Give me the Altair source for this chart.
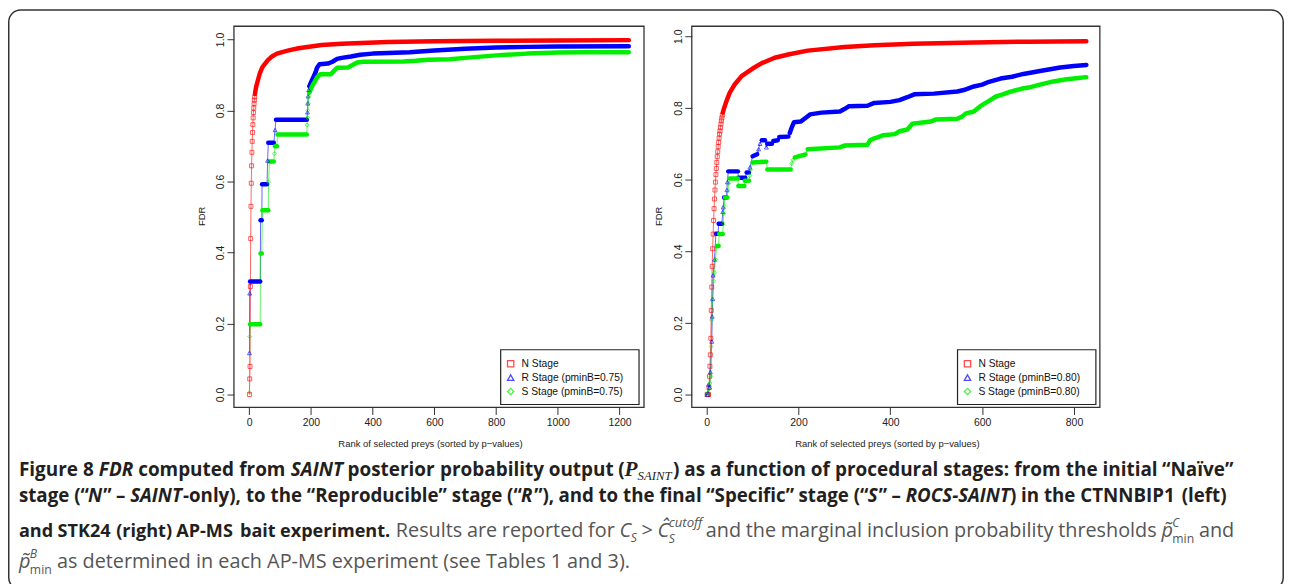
import altair as alt
import pandas as pd

W, H = 1282, 576

# ---------------- data ----------------
# each series = list of segments; a one-point segment is an isolated marker,
# a multi-point segment is a run of densely packed markers
left_names = ["N Stage", "R Stage (pminB=0.75)", "S Stage (pminB=0.75)"]
right_names = ["N Stage", "R Stage (pminB=0.80)", "S Stage (pminB=0.80)"]
colors = ["#ff0000", "#0000ff", "#00ee00"]
shapes = ["square", "triangle-up", "diamond"]

left_x_ticks = [0, 200, 400, 600, 800, 1000, 1200]
right_x_ticks = [0, 200, 400, 600, 800]
y_ticks = [0.0, 0.2, 0.4, 0.6, 0.8, 1.0]

L_N = [[[1, 0.0]], [[2, 0.044]], [[3, 0.079]], [[4, 0.304]], [[5, 0.439]], [[6, 0.530]],
       [[7, 0.595]], [[8, 0.644]], [[9, 0.682]], [[10, 0.713]], [[11, 0.738]], [[12, 0.760]],
       [[13, 0.779]], [[14, 0.794]], [[15, 0.807]], [[16, 0.819]], [[17, 0.829]], [[18, 0.838]],
       [[19, 0.846], [20, 0.853], [23, 0.868], [26, 0.877], [30, 0.89], [35, 0.905], [42, 0.92],
        [50, 0.93], [60, 0.941], [74, 0.952], [90, 0.96], [110, 0.965], [128, 0.969], [160, 0.975],
        [200, 0.98], [235, 0.984], [300, 0.988], [449, 0.993], [600, 0.995], [800, 0.996],
        [1000, 0.997], [1230, 0.998]]]

L_R = [[[1, 0.117]], [[2, 0.285]], [[3, 0.318], [36, 0.318]], [[37, 0.491], [41, 0.491]],
       [[42, 0.592], [58, 0.592]], [[60, 0.659]], [[62, 0.709], [80, 0.709]], [[84, 0.745]],
       [[87, 0.774], [187, 0.774]], [[189, 0.795]], [[190, 0.82]], [[191, 0.84]], [[193, 0.858]],
       [[195, 0.868], [200, 0.878], [205, 0.888], [210, 0.897], [215, 0.907], [220, 0.92],
        [228, 0.93], [255, 0.932], [270, 0.937], [285, 0.945], [300, 0.948], [330, 0.952],
        [360, 0.957], [400, 0.96], [450, 0.962], [520, 0.964], [600, 0.969], [700, 0.974],
        [800, 0.977], [900, 0.979], [1000, 0.98], [1230, 0.981]]]

L_S = [[[1, 0.005]], [[2, 0.163]], [[3, 0.198], [36, 0.198]], [[37, 0.397], [41, 0.397]],
       [[43, 0.519], [62, 0.519]], [[63, 0.598]], [[66, 0.656], [80, 0.656]], [[82, 0.678]],
       [[84, 0.699], [90, 0.699]], [[92, 0.732], [187, 0.732]], [[188, 0.759]], [[189, 0.780]],
       [[190, 0.80]], [[191, 0.82]], [[193, 0.84]],
       [[195, 0.85], [200, 0.86], [205, 0.87], [212, 0.88], [220, 0.893], [230, 0.902],
        [265, 0.902], [275, 0.912], [285, 0.92], [320, 0.921], [335, 0.928], [350, 0.935],
        [370, 0.937], [500, 0.938], [540, 0.94], [580, 0.943], [650, 0.944], [700, 0.948],
        [800, 0.955], [900, 0.96], [1000, 0.963], [1100, 0.964], [1230, 0.964]]]

R_N = [[[1, 0.0]], [[2, 0.0]], [[3, 0.0]], [[4, 0.0]], [[5, 0.02]], [[6, 0.051]], [[7, 0.079]],
       [[8, 0.111]], [[9, 0.157]], [[10, 0.235]], [[11, 0.30]], [[12, 0.358]], [[13, 0.407]],
       [[14, 0.448]], [[15, 0.486]], [[16, 0.519]], [[17, 0.546]], [[18, 0.571]], [[19, 0.593]],
       [[20, 0.614]], [[21, 0.631]], [[22, 0.648]], [[23, 0.664]], [[24, 0.678]], [[25, 0.692]],
       [[26, 0.704]], [[27, 0.716]], [[28, 0.727]], [[29, 0.736]], [[30, 0.745]], [[31, 0.755]],
       [[32, 0.764]], [[33, 0.772]], [[34, 0.78]],
       [[35, 0.787], [38, 0.80], [43, 0.819], [50, 0.842], [60, 0.864], [76, 0.889], [100, 0.91],
        [120, 0.925], [148, 0.94], [180, 0.95], [220, 0.96], [300, 0.97], [365, 0.975],
        [450, 0.979], [582, 0.983], [700, 0.985], [827, 0.986]]]

R_R = [[[1, 0.0]], [[2, 0.005]], [[4, 0.028]], [[6, 0.02]], [[8, 0.063]], [[11, 0.148]],
       [[12, 0.218]], [[13, 0.267]], [[14, 0.333]], [[17, 0.377]], [[20, 0.449], [25, 0.449]],
       [[26, 0.477], [33, 0.477]], [[35, 0.51]], [[36, 0.523]], [[38, 0.55], [43, 0.55]],
       [[44, 0.571]], [[45, 0.593]], [[47, 0.623], [68, 0.623]], [[69, 0.605], [84, 0.605]],
       [[87, 0.62], [92, 0.62]], [[94, 0.634]], [[100, 0.665], [110, 0.671]], [[113, 0.685]],
       [[116, 0.70]], [[120, 0.71], [127, 0.71]], [[130, 0.69]], [[132, 0.70], [142, 0.70]],
       [[145, 0.708], [155, 0.71]], [[158, 0.719], [178, 0.72]],
       [[181, 0.73], [185, 0.745], [190, 0.76], [205, 0.762], [213, 0.77], [225, 0.782],
        [250, 0.787], [290, 0.79], [300, 0.797], [310, 0.805], [350, 0.806], [365, 0.814],
        [400, 0.817], [420, 0.822], [437, 0.83], [452, 0.838], [495, 0.84], [546, 0.846],
        [560, 0.85], [582, 0.86], [600, 0.865], [615, 0.873], [640, 0.882], [665, 0.887],
        [690, 0.895], [726, 0.903], [770, 0.913], [800, 0.917], [827, 0.92]]]

R_S = [[[1, 0.0]], [[3, 0.005]], [[5, 0.015]], [[7, 0.032]], [[9, 0.051]], [[10, 0.134]],
       [[11, 0.208]], [[13, 0.265]], [[15, 0.317]], [[17, 0.34]], [[19, 0.377]],
       [[22, 0.415], [26, 0.415]], [[27, 0.448], [35, 0.448]], [[36, 0.477]], [[37, 0.505]],
       [[38, 0.525]], [[40, 0.55], [45, 0.55]], [[46, 0.57]], [[48, 0.59]],
       [[50, 0.603], [68, 0.603]], [[69, 0.582], [82, 0.582]], [[83, 0.597], [92, 0.597]],
       [[94, 0.611]], [[96, 0.628]], [[100, 0.648], [130, 0.65]], [[132, 0.628], [183, 0.628]],
       [[185, 0.645]], [[188, 0.655]], [[192, 0.662], [215, 0.67]],
       [[220, 0.685], [290, 0.69], [300, 0.695], [350, 0.697], [356, 0.71], [365, 0.715],
        [372, 0.718], [385, 0.724], [410, 0.727], [420, 0.735], [437, 0.74], [448, 0.756],
        [488, 0.762], [500, 0.768], [546, 0.77], [555, 0.775], [565, 0.785], [582, 0.79],
        [596, 0.805], [605, 0.812], [615, 0.82], [630, 0.832], [645, 0.838], [660, 0.845],
        [690, 0.855], [705, 0.858], [726, 0.865], [755, 0.874], [784, 0.88], [800, 0.882],
        [827, 0.886]]]


def build(names, series):
    rows = []
    sid = 0
    for name, segs in zip(names, series):
        idx = 0
        for s in segs:
            sid += 1
            for r, f in s:
                rows.append({"series": name, "rank": r, "fdr": f, "seg": sid,
                             "band": len(s) > 1, "idx": idx})
                idx += 1
    return pd.DataFrame(rows)


df_left = build(left_names, [L_N, L_R, L_S])
df_right = build(right_names, [R_N, R_R, R_S])

AX_FONT = "Liberation Sans"
XTITLE = "Rank of selected preys (sorted by p\u2212values)"
one = pd.DataFrame({"a": [0]})


def cscale(names):
    return alt.Scale(domain=names, range=colors)


def sscale(names):
    return alt.Scale(domain=names, range=shapes)


def panel(df, names, xdom, frame, ydom, xticks, xtitle_x):
    x0, x1, y0, y1 = frame
    xs = alt.Scale(domain=xdom, range=[x0, x1], nice=False, zero=False)
    ys = alt.Scale(domain=ydom, range=[y1, y0], nice=False, zero=False)
    xax = alt.Axis(values=xticks, format="d", orient="bottom", offset=y1 - H, domain=False,
                   grid=False, tickSize=7, tickColor="#333", tickWidth=1,
                   labelFont=AX_FONT, labelFontSize=10.5, labelColor="#222", labelPadding=8,
                   labelBaseline="middle", labelAlign="center", labelFlush=False,
                   labelOverlap=False, title=XTITLE, titleFont=AX_FONT, titleFontSize=9.5,
                   titleFontWeight="normal", titleColor="#222", titleX=xtitle_x, titleY=36,
                   titleAlign="center", titleBaseline="middle", titleAngle=0)
    yax = alt.Axis(values=y_ticks, format=".1f", orient="left", offset=-x0, domain=False,
                   grid=False, tickSize=7, tickColor="#333", tickWidth=1,
                   labelFont=AX_FONT, labelFontSize=10.5, labelColor="#222", labelPadding=6,
                   labelAngle=270, labelBaseline="middle", labelAlign="center",
                   labelFlush=False, labelOverlap=False, title="FDR", titleFont=AX_FONT,
                   titleFontSize=9.5, titleFontWeight="normal", titleColor="#222",
                   titleX=-33, titleY=(y0 + y1) / 2 - 1, titleAlign="center",
                   titleBaseline="middle", titleAngle=270)
    X = alt.X("rank:Q", scale=xs, axis=xax)
    Y = alt.Y("fdr:Q", scale=ys, axis=yax)
    C = alt.Color("series:N", scale=cscale(names), legend=None)
    base = alt.Chart(df)
    thin = base.mark_line(strokeWidth=1, opacity=0.6).encode(
        x=X, y=Y, color=C, detail="series:N", order="idx:Q")
    thick = base.transform_filter("datum.band").mark_line(
        strokeWidth=4.5, strokeCap="round", strokeJoin="round").encode(
        x=X, y=Y, color=C, detail="seg:N", order="idx:Q")
    pts = base.transform_filter("!datum.band").mark_point(
        filled=False, size=16, strokeWidth=0.9).encode(
        x=X, y=Y, color=C, shape=alt.Shape("series:N", scale=sscale(names), legend=None))
    return alt.layer(thin, thick, pts)


def legend_box(names, bx, by):
    ldf = pd.DataFrame({"series": names})
    Y = alt.Y("series:N", axis=None,
              scale=alt.Scale(type="point", domain=names, range=[by + 14, by + 42], padding=0))
    box = alt.Chart(one).mark_rect(fill="white", stroke="#222", strokeWidth=1.2).encode(
        x=alt.value(bx), x2=alt.value(bx + 139), y=alt.value(by), y2=alt.value(by + 55))
    sym = alt.Chart(ldf).mark_point(filled=False, size=40, strokeWidth=1.3).encode(
        x=alt.value(bx + 10), y=Y,
        color=alt.Color("series:N", scale=cscale(names), legend=None),
        shape=alt.Shape("series:N", scale=sscale(names), legend=None))
    lab = alt.Chart(ldf).mark_text(align="left", baseline="middle", font=AX_FONT,
                                   fontSize=10.3, color="#111").encode(
        x=alt.value(bx + 21), y=Y, text="series:N")
    return alt.layer(box, sym, lab)


L_FRAME = (227, 639, 17, 400)
R_FRAME = (687, 1097, 17, 400)

left = panel(df_left, left_names, [-49.2, 1279.2], L_FRAME, [-0.0365, 1.037],
             left_x_ticks, 424)
right = panel(df_right, right_names, [-32.5, 856.4], R_FRAME, [-0.036, 1.028],
              right_x_ticks, 883)


def frame(fr):
    x0, x1, y0, y1 = fr
    return alt.Chart(one).mark_rect(fillOpacity=0, stroke="#333", strokeWidth=1.3).encode(
        x=alt.value(x0), x2=alt.value(x1), y=alt.value(y0), y2=alt.value(y1))


outer = alt.Chart(one).mark_rect(fillOpacity=0, stroke="#333", strokeWidth=1.5,
                                 cornerRadius=12).encode(
    x=alt.value(0.75), x2=alt.value(1281.2), y=alt.value(0.75), y2=alt.value(583))

# ---------------- caption ----------------
BOLD = "#231f20"
GREY = "#555555"
# approximate advance widths (em) of Open Sans, used only to lay words out
W_B = dict(zip(" abcdefghijklmnopqrstuvwxyz",
               [.26, .59, .635, .516, .635, .601, .391, .565, .654, .305, .305, .617, .305,
                .992, .654, .628, .635, .635, .451, .509, .424, .654, .573, .856, .586, .573, .5]))
W_B.update(dict(zip("ABCDEFIKMNOPRSTV", [.742, .708, .659, .771, .58, .556, .339, .686, .957,
                                         .815, .807, .674, .694, .573, .578, .69])))
W_R = dict(zip(" abcdefghijklmnopqrstuvwxyz",
               [.26, .556, .613, .476, .613, .561, .339, .548, .614, .253, .253, .525, .253,
                .93, .614, .604, .613, .613, .408, .477, .353, .614, .501, .778, .524, .502, .47]))
W_R.update(dict(zip("ABCDEFIKMNOPRSTV", [.633, .648, .631, .729, .556, .516, .279, .589, .903,
                                         .754, .787, .602, .617, .541, .544, .6])))
PUNCT_B = {"(": .331, ")": .331, ".": .295, ",": .29, "-": .322, ":": .295, "\u201c": .414,
           "\u201d": .414, "\u2013": .5, "\u00ef": .305, ">": .572, "\u0303": 0.0}
PUNCT_R = {"(": .295, ")": .295, ".": .266, ",": .25, "-": .322, ":": .266, "\u201c": .35,
           "\u201d": .35, "\u2013": .5, "\u00ef": .253, ">": .572, "\u0108": .631, "\u0303": 0.0}
W_SERIF = {"P": .611, "S": .5, "A": .611, "I": .333, "N": .667, "T": .556}


def text_w(t, kind, size):
    if kind.startswith("serif"):
        return sum(W_SERIF.get(c, .5) for c in t) * size
    bold = kind.startswith("b")
    tab, pun = (W_B, PUNCT_B) if bold else (W_R, PUNCT_R)
    tot = 0.0
    for c in t:
        if c.isdigit():
            tot += .572
        else:
            tot += tab.get(c, pun.get(c, .55))
    if kind.endswith("i"):
        tot *= 0.9
    return tot * size


SB, SR, SS, SP = 17.8, 19.5, 12.0, 20.0   # bold, regular, small, serif P


def B(t):
    return [(t, "b", SB, 0, True)]


def BI(t):
    return [(t, "bi", SB, 0, True)]


def R(t):
    return [(t, "r", SR, 0, True)]


line1 = [B("Figure"), B("8"), BI("FDR"), B("computed"), B("from"), BI("SAINT"), B("posterior"),
         B("probability"), B("output"),
         [("(", "b", SB, 0, True), ("P", "serif_bi", SP, 0, True),
          ("SAINT", "serif_i", SS, 4, True), (")", "b", SB, 0, True)],
         B("as"), B("a"), B("function"), B("of"), B("procedural"), B("stages:"), B("from"),
         B("the"), B("initial"), B("\u201cNa\u00efve\u201d")]
line2 = [B("stage"), [("(\u201c", "b", SB, 0, True), ("N", "bi", SB, 0, True),
                      ("\u201d", "b", SB, 0, True)],
         B("\u2013"), [("SAINT", "bi", SB, 0, True), ("-only),", "b", SB, 0, True)],
         B("to"), B("the"), B("\u201cReproducible\u201d"), B("stage"),
         [("(\u201c", "b", SB, 0, True), ("R", "bi", SB, 0, True), ("\u201d),", "b", SB, 0, True)],
         B("and"), B("to"), B("the"), B("final"), B("\u201cSpecific\u201d"), B("stage"),
         [("(\u201c", "b", SB, 0, True), ("S", "bi", SB, 0, True), ("\u201d", "b", SB, 0, True)],
         B("\u2013"), [("ROCS-SAINT", "bi", SB, 0, True), (")", "b", SB, 0, True)],
         B("in"), B("the"), B("CTNNBIP1"), B("(left)")]
line3 = [B("and"), B("STK24"), B("(right)"), B("AP-MS"), B("bait"), B("experiment."),
         R("Results"), R("are"), R("reported"), R("for"),
         [("C", "ri", SR, 0, True), ("S", "ri", SS, 5, True)], R(">"),
         [("\u0108", "ri", SR, 0, True), ("S", "ri", SS, 6, False), ("cutoff", "ri", 13, -10, True)],
         R("and"), R("the"), R("marginal"), R("inclusion"), R("probability"), R("thresholds"),
         [("p\u0303", "ri", SR, 0, True), ("C", "ri", SS, -10, False), ("min", "r", SS, 6, True)],
         R("and")]
line4 = [[("p\u0303", "ri", SR, 0, True), ("B", "ri", SS, -10, False), ("min", "r", SS, 6, True)],
         R("as"), R("determined"), R("in"), R("each"), R("AP-MS"), R("experiment"), R("(see"),
         R("Tables"), R("1"), R("and"), R("3).")]

# (words, baseline y, left x, right x or None for a natural last line)
caption_lines = [(line1, 469, 11, 1230), (line2, 495, 11, 1224), (line3, 530, 11, 1232),
                 (line4, 561, 11, None)]


def piece_adv(t, kind, s, k, nxt_kind):
    w = text_w(t, kind, s * k)
    # small italic correction when an italic piece is followed by an upright one
    if kind.endswith("i") and nxt_kind is not None and not nxt_kind.endswith("i"):
        w += 1.5
    return w


def word_w(w, k):
    tot = 0.0
    for j, (t, kind, s, dy, adv) in enumerate(w):
        if adv:
            nk = w[j + 1][1] if j + 1 < len(w) else None
            tot += piece_adv(t, kind, s, k, nk)
    return tot


rows = []
scale_k = 1.0
for words, yb, xl, xr in caption_lines:
    if xr is not None:
        nat = sum(word_w(w, 1.0) for w in words) + (len(words) - 1) * 0.26 * SB
        scale_k = (xr - xl) / nat
        k = scale_k
        total = sum(word_w(w, k) for w in words)
        gap = (xr - xl - total) / (len(words) - 1)
    else:
        k = scale_k
        gap = 0.26 * SR * k
    x = xl
    for w in words:
        for j, (t, kind, s, dy, adv) in enumerate(w):
            rows.append({"t": t, "kind": kind, "x": x, "y": yb + dy, "size": s * k})
            if adv:
                nk = w[j + 1][1] if j + 1 < len(w) else None
                x += piece_adv(t, kind, s, k, nk)
        x += gap

cap = pd.DataFrame(rows)
STYLES = {"b": ("Open Sans", "bold", "normal", BOLD), "bi": ("Open Sans", "bold", "italic", BOLD),
          "r": ("Open Sans", "normal", "normal", GREY), "ri": ("Open Sans", "normal", "italic", GREY),
          "serif_bi": ("Liberation Serif", "bold", "italic", BOLD),
          "serif_i": ("Liberation Serif", "normal", "italic", BOLD)}
caption_layers = []
for kind, (font, weight, style, col) in STYLES.items():
    sub = cap[cap["kind"] == kind]
    if len(sub) == 0:
        continue
    caption_layers.append(
        alt.Chart(sub).mark_text(align="left", baseline="alphabetic", font=font,
                                 fontWeight=weight, fontStyle=style, color=col).encode(
            x=alt.X("x:Q", scale=None, axis=None), y=alt.Y("y:Q", scale=None, axis=None),
            size=alt.Size("size:Q", scale=None, legend=None), text="t:N"))

chart = alt.layer(
    outer, frame(L_FRAME), frame(R_FRAME), left, right,
    legend_box(left_names, 495, 342), legend_box(right_names, 954, 342), *caption_layers
).resolve_scale(
    x="independent", y="independent", color="independent", shape="independent",
    size="independent"
).properties(
    width=W, height=H, padding=0, autosize=alt.AutoSizeParams(type="none"),
    background="white"
).configure_view(stroke=None)

chart.save("out.html", embed_options={"renderer": "svg", "actions": False})
